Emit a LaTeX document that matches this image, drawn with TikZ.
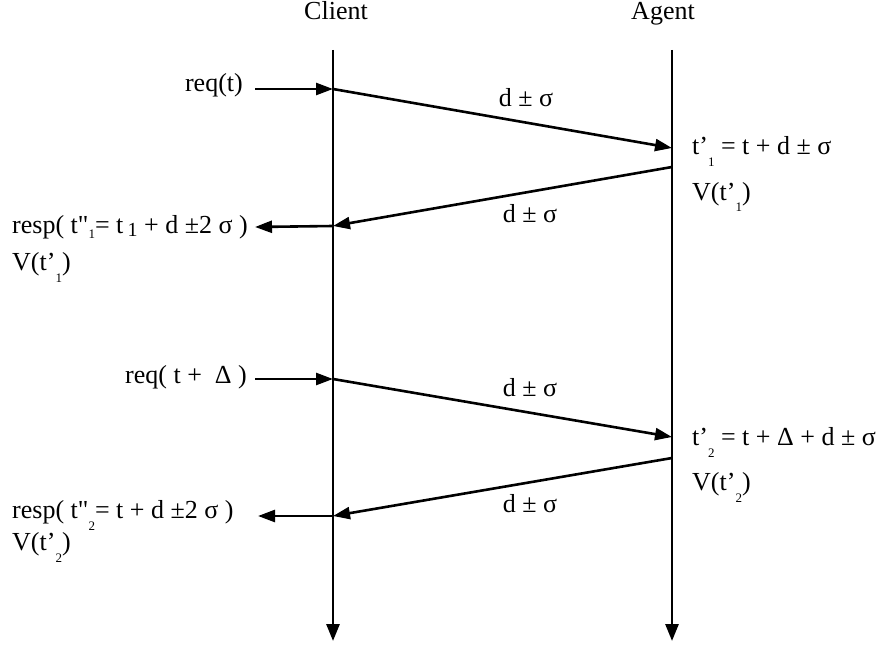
\documentclass[tikz,border=0pt]{standalone}
\usepackage{fontspec}
\setmainfont{Liberation Serif}[Ligatures=TeXOff]
\usepackage{tikz}
\usetikzlibrary{arrows.meta}
\newcommand{\lowidx}[1]{\raisebox{-12pt}{\fontsize{13}{13}\selectfont #1}}

\begin{document}
\begin{tikzpicture}[x=1pt, y=-1pt, font=\fontsize{26}{30}\selectfont,
  lifeline/.style={draw, line width=2.8pt, -{Triangle[length=17pt, width=13pt]}},
  msg/.style={draw, line width=2.6pt, -{Triangle[length=17pt, width=12pt]}},
  head/.style={anchor=base, inner sep=0pt},
  reqlbl/.style={anchor=base east, inner sep=0pt},
  leftlbl/.style={anchor=base west, inner sep=0pt},
  rightlbl/.style={anchor=base west, inner sep=0pt},
  delay/.style={anchor=base, inner sep=0pt}
]
  \useasboundingbox (0,0) rectangle (885,647);
  % ===== lifelines =====
  \node[head] (client) at (336,20) {Client};
  \node[head] (agent)  at (663,20) {Agent};
  \coordinate (ctop) at (333,50);
  \coordinate (cbot) at (333,641);
  \coordinate (atop) at (672,50);
  \coordinate (abot) at (672,641);
  \draw[lifeline] (ctop) -- (cbot);
  \draw[lifeline] (atop) -- (abot);
  % ===== exchange 1: req(t) =====
  \coordinate (c1) at (333,89);
  \coordinate (a1) at (672,148);
  \coordinate (a2) at (672,167);
  \coordinate (c2) at (333,226);
  \coordinate (in1)  at (255,89);
  \coordinate (out1) at (255,227);
  \node[reqlbl] (req1) at (243,92) {req(t)};
  \draw[msg] (in1) -- (c1);
  \draw[msg] (c1) -- (a1);
  \node[delay] (d1) at (526,107) {d ± σ};
  \node[rightlbl] (t1) at (692,155) {t’\lowidx{1} = t + d ± σ};
  \node[rightlbl] (v1) at (692,200) {V(t’\lowidx{1})};
  \draw[msg] (a2) -- (c2);
  \node[delay] (d2) at (530,222) {d ± σ};
  \draw[msg] (c2) -- (out1);
  \node[leftlbl] (resp1) at (12,233)
    {resp( t"\raisebox{-5pt}{\fontsize{13}{13}\selectfont 1}= t\,\raisebox{-3pt}{\fontsize{20}{20}\selectfont 1} + d ±2 σ )};
  \node[leftlbl] (rv1) at (12,270) {V(t’\lowidx{1})};
  % ===== exchange 2: req(t + Delta) =====
  \coordinate (c3) at (333,379);
  \coordinate (a3) at (672,437);
  \coordinate (a4) at (672,458);
  \coordinate (c4) at (333,516);
  \coordinate (in2)  at (255,379);
  \coordinate (out2) at (258,516);
  \node[reqlbl] (req2) at (247,383) {req( t +\enspace Δ )};
  \draw[msg] (in2) -- (c3);
  \draw[msg] (c3) -- (a3);
  \node[delay] (d3) at (530,396) {d ± σ};
  \node[rightlbl] (t2) at (692,445) {t’\lowidx{2} = t + Δ + d ± σ};
  \node[rightlbl] (v2) at (692,490) {V(t’\lowidx{2})};
  \draw[msg] (a4) -- (c4);
  \node[delay] (d4) at (530,512) {d ± σ};
  \draw[msg] (c4) -- (out2);
  \node[leftlbl] (resp2) at (12,518) {resp( t"\lowidx{2}= t + d ±2 σ )};
  \node[leftlbl] (rv2) at (12,550) {V(t’\lowidx{2})};
\end{tikzpicture}
\end{document}
